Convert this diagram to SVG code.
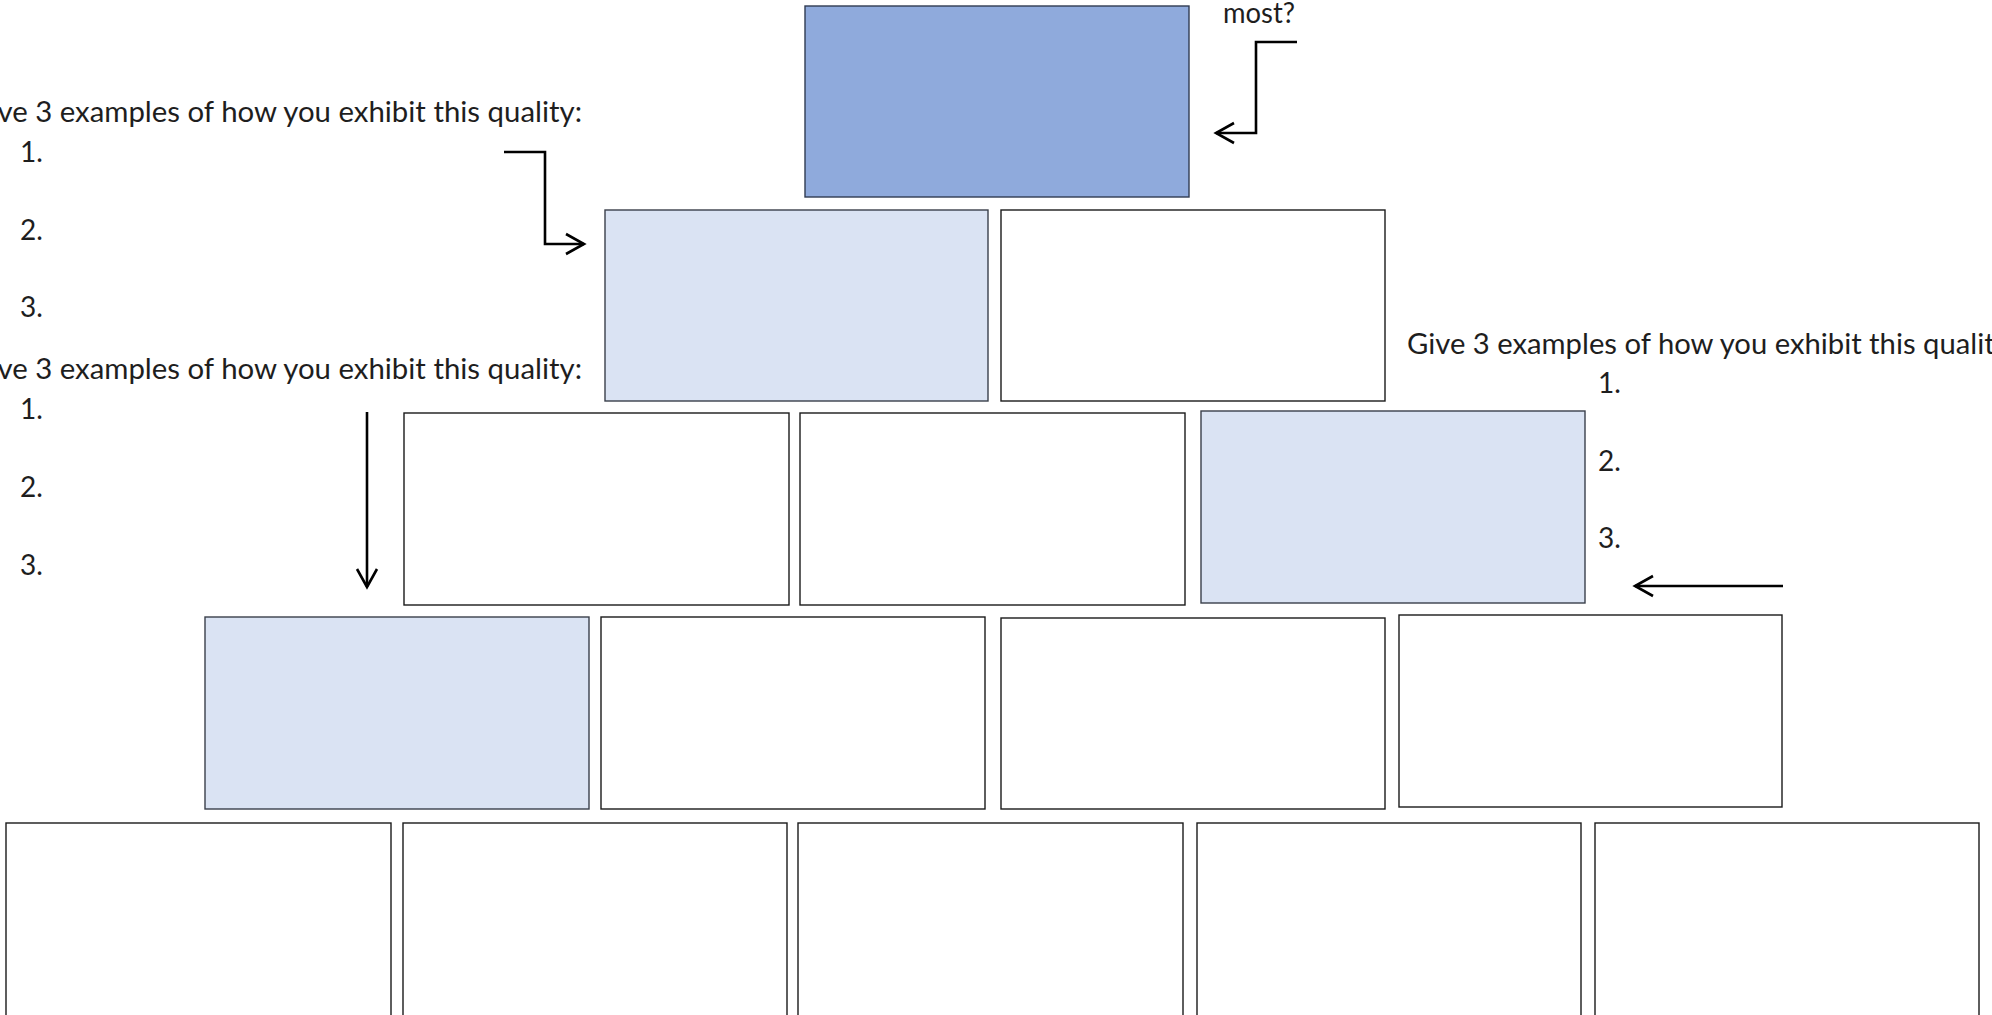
<svg xmlns="http://www.w3.org/2000/svg" width="1992" height="1015" viewBox="0 0 1992 1015">
<style>
  .box { stroke: #1a1a1a; stroke-width: 1.4; fill: #ffffff; }
  .light { fill: #DAE3F3; stroke: #3a3f4a; }
  .dark { fill: #8FAADC; stroke: #2f3b52; }
  .t { font-family: Lato, "Open Sans", "Liberation Sans", sans-serif; font-weight: 400; font-size: 28px; fill: #1e1e1e; }
  .conn { fill: none; stroke: #000; stroke-width: 2.6; }
</style>
<defs>
  <marker id="open" markerUnits="userSpaceOnUse" markerWidth="26" markerHeight="26" viewBox="-22 -13 26 26" refX="0" refY="0" orient="auto">
    <path d="M-18,-10 L0,0 L-18,10" fill="none" stroke="#000" stroke-width="2.6"/>
  </marker>
</defs>
<rect width="1992" height="1015" fill="#ffffff"/>

<g id="row1">
  <g id="top"><rect class="box dark" x="805" y="6" width="384" height="191"/></g>
</g>
<g id="row2">
  <g id="r2a"><rect class="box light" x="605" y="210" width="383" height="191"/></g>
  <g id="r2b"><rect class="box" x="1001" y="210" width="384" height="191"/></g>
</g>
<g id="row3">
  <g id="r3a"><rect class="box" x="404" y="413" width="385" height="192"/></g>
  <g id="r3b"><rect class="box" x="800" y="413" width="385" height="192"/></g>
  <g id="r3c"><rect class="box light" x="1201" y="411" width="384" height="192"/></g>
</g>
<g id="row4">
  <g id="r4a"><rect class="box light" x="205" y="617" width="384" height="192"/></g>
  <g id="r4b"><rect class="box" x="601" y="617" width="384" height="192"/></g>
  <g id="r4c"><rect class="box" x="1001" y="618" width="384" height="191"/></g>
  <g id="r4d"><rect class="box" x="1399" y="615" width="383" height="192"/></g>
</g>
<g id="row5">
  <g id="r5a"><rect class="box" x="6" y="823" width="385" height="200"/></g>
  <g id="r5b"><rect class="box" x="403" y="823" width="384" height="200"/></g>
  <g id="r5c"><rect class="box" x="798" y="823" width="385" height="200"/></g>
  <g id="r5d"><rect class="box" x="1197" y="823" width="384" height="200"/></g>
  <g id="r5e"><rect class="box" x="1595" y="823" width="384" height="200"/></g>
</g>

<g id="labels">
  <text class="t" x="1223" y="23" textLength="72" lengthAdjust="spacingAndGlyphs">most?</text>
  <g id="note-left-1">
    <text class="t" x="-31" y="122" textLength="613" lengthAdjust="spacingAndGlyphs">Give 3 examples of how you exhibit this quality:</text>
    <text class="t" x="20" y="162">1.</text>
    <text class="t" x="20" y="240">2.</text>
    <text class="t" x="20" y="317">3.</text>
  </g>
  <g id="note-left-2">
    <text class="t" x="-31" y="379" textLength="613" lengthAdjust="spacingAndGlyphs">Give 3 examples of how you exhibit this quality:</text>
    <text class="t" x="20" y="419">1.</text>
    <text class="t" x="20" y="497">2.</text>
    <text class="t" x="20" y="575">3.</text>
  </g>
  <g id="note-right">
    <text class="t" x="1407" y="354" textLength="610" lengthAdjust="spacingAndGlyphs">Give 3 examples of how you exhibit this quality:</text>
    <text class="t" x="1598" y="393">1.</text>
    <text class="t" x="1598" y="471">2.</text>
    <text class="t" x="1598" y="548">3.</text>
  </g>
</g>

<g id="connectors">
  <path class="conn" d="M504,152 H545 V244 H584" marker-end="url(#open)"/>
  <path class="conn" d="M1297,42 H1256 V133 H1216" marker-end="url(#open)"/>
  <path class="conn" d="M367,412 V587" marker-end="url(#open)"/>
  <path class="conn" d="M1783,586 H1635" marker-end="url(#open)"/>
</g>
</svg>
